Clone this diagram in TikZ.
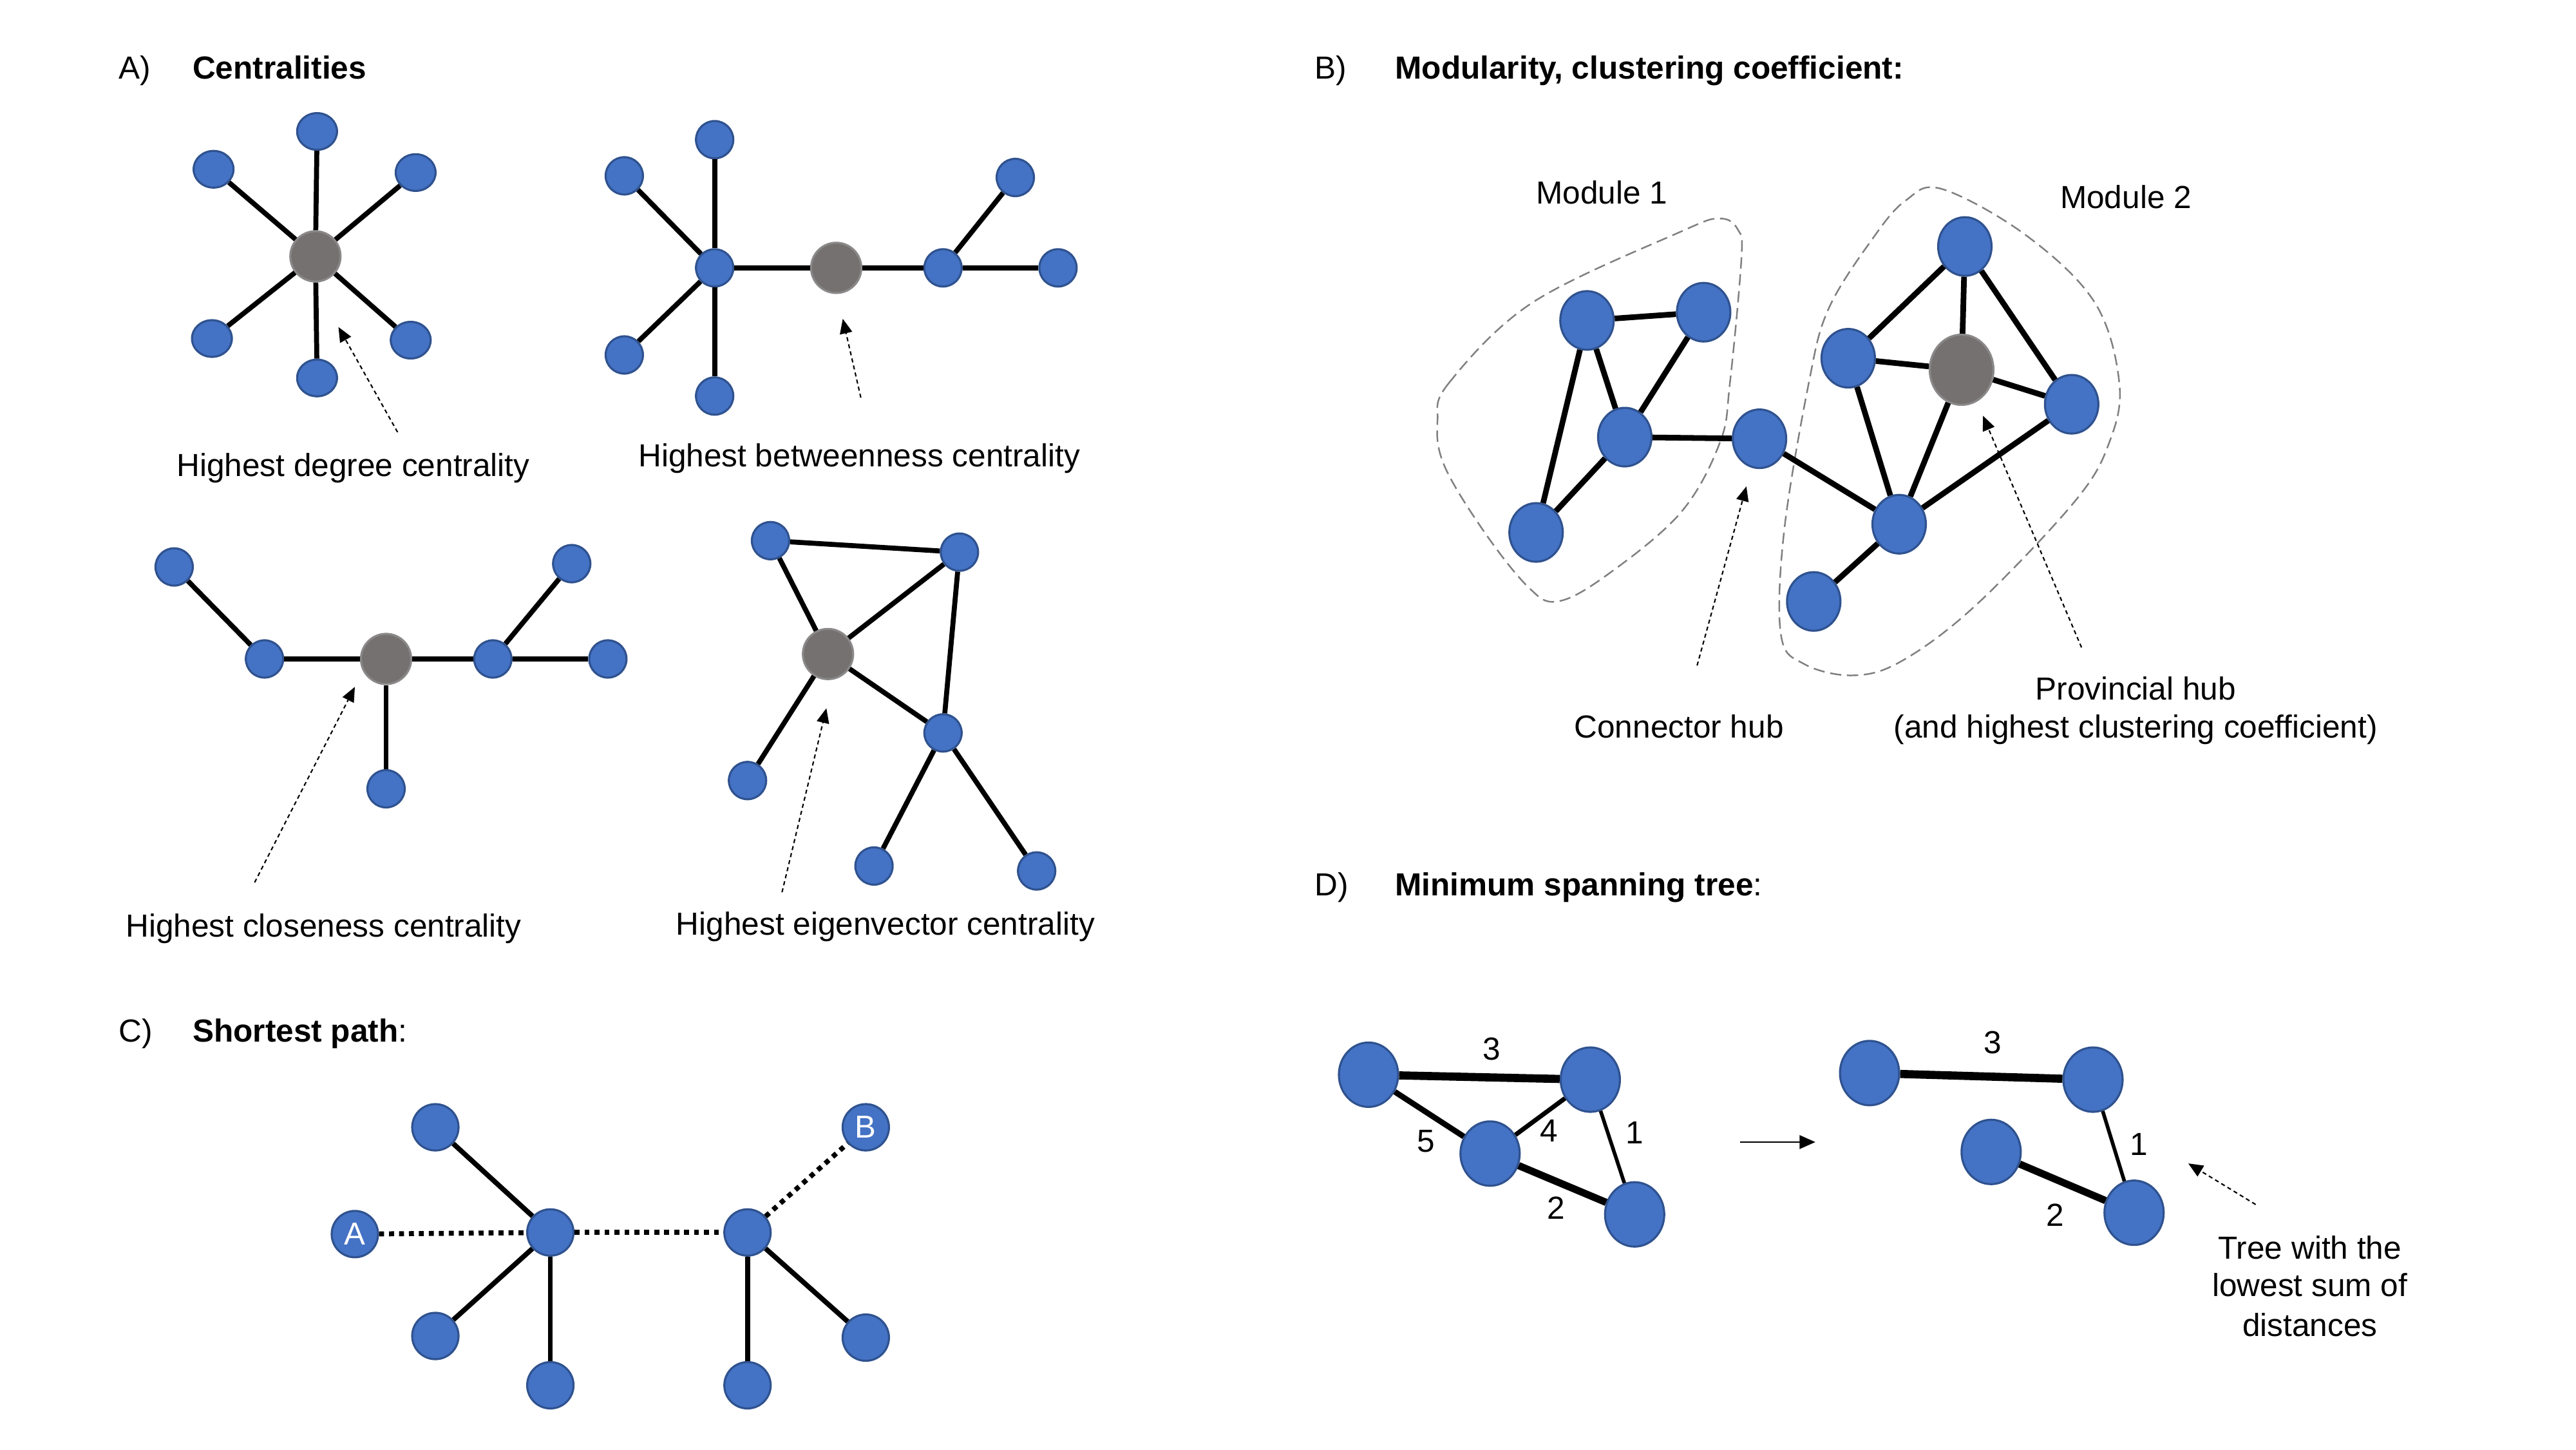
\documentclass[tikz,border=0pt]{standalone}
\usepackage{fontspec}
\setmainfont{Liberation Sans}
\usetikzlibrary{arrows.meta,shapes.geometric}
\definecolor{netblue}{HTML}{4472C4}
\definecolor{netrim}{HTML}{2F528F}
\definecolor{hubgray}{HTML}{767171}
\definecolor{hubrim}{HTML}{8A8888}
\definecolor{modline}{HTML}{7F7F7F}

\tikzset{
  vtx/.style={ellipse, draw=netrim, fill=netblue, line width=0.9pt, inner sep=0pt, minimum width=0.58cm, minimum height=0.58cm},
  hubvtx/.style={vtx, draw=hubrim, fill=hubgray, minimum width=0.78cm, minimum height=0.78cm},
  link/.style={line width=2.2pt},
  pathlink/.style={line width=2.2pt, dash pattern=on 2.2pt off 2.2pt},
  pointer/.style={line width=0.6pt, dash pattern=on 1.8pt off 1.4pt, -{Triangle[length=6.5pt,width=5.5pt]}},
  txt/.style={font=\fontsize{14.1}{17}\selectfont, inner sep=0pt, anchor=base},
  head/.style={txt, anchor=base west},
  module/.style={modline, line width=0.7pt, dash pattern=on 5pt off 2.5pt}
}

\begin{document}
\begin{tikzpicture}[x=0.2551mm, y=-0.2551mm]
\useasboundingbox (0,0) rectangle (1568,882);

% ---------- A) Centralities
\node[head] (hA) at (72,48) {A)};
\node[head] (tA) at (117,48) {\textbf{Centralities}};

% degree
\node[hubvtx] (dg0) at (192,156) {};
\node[vtx, minimum width=0.62cm, minimum height=0.57cm] (dg1) at (193,80) {};
\node[vtx, minimum width=0.62cm, minimum height=0.57cm] (dg2) at (130,103) {};
\node[vtx, minimum width=0.62cm, minimum height=0.57cm] (dg3) at (253,105) {};
\node[vtx, minimum width=0.62cm, minimum height=0.57cm] (dg4) at (129,206) {};
\node[vtx, minimum width=0.62cm, minimum height=0.57cm] (dg5) at (250,207) {};
\node[vtx, minimum width=0.62cm, minimum height=0.57cm] (dg6) at (193,230) {};
\foreach \n in {1,...,6}
  \draw[link] (dg0) -- (dg\n);
\coordinate (dgtail) at (242,263);
\coordinate (dgtip) at (206,199);
\draw[pointer] (dgtail) -- (dgtip);
\node[txt] (dglabel) at (215,290) {Highest degree centrality};

% betweenness
\node[vtx] (bt0) at (435,163) {};
\node[vtx] (bt1) at (435,85) {};
\node[vtx] (bt2) at (380,107) {};
\node[vtx] (bt3) at (380,216) {};
\node[vtx] (bt4) at (435,241) {};
\node[hubvtx] (btc) at (509,163) {};
\node[vtx] (bt5) at (574,163) {};
\node[vtx] (bt6) at (618,108) {};
\node[vtx] (bt7) at (644,163) {};
\foreach \n in {1,...,4}
  \draw[link] (bt0) -- (bt\n);
\draw[link] (bt0) -- (btc);
\draw[link] (btc) -- (bt5);
\draw[link] (bt5) -- (bt6);
\draw[link] (bt5) -- (bt7);
\coordinate (bttail) at (524,242);
\coordinate (bttip) at (513,194);
\draw[pointer] (bttail) -- (bttip);
\node[txt] (btlabel) at (523,284) {Highest betweenness centrality};

% closeness
\node[vtx] (cl1) at (106,345) {};
\node[vtx] (cl2) at (161,401) {};
\node[hubvtx] (clc) at (235,401) {};
\node[vtx] (cl3) at (300,401) {};
\node[vtx] (cl4) at (348,343) {};
\node[vtx] (cl5) at (370,401) {};
\node[vtx] (cl6) at (235,480) {};
\draw[link] (cl1) -- (cl2);
\draw[link] (cl2) -- (clc);
\draw[link] (clc) -- (cl3);
\draw[link] (cl3) -- (cl4);
\draw[link] (cl3) -- (cl5);
\draw[link] (clc) -- (cl6);
\coordinate (cltail) at (155,537);
\coordinate (cltip) at (216,418);
\draw[pointer] (cltail) -- (cltip);
\node[txt] (cllabel) at (197,570) {Highest closeness centrality};

% eigenvector
\node[vtx] (ev1) at (469,329) {};
\node[vtx] (ev2) at (584,336) {};
\node[hubvtx] (evc) at (504,398) {};
\node[vtx] (ev3) at (574,446) {};
\node[vtx] (ev4) at (455,475) {};
\node[vtx] (ev5) at (532,527) {};
\node[vtx] (ev6) at (631,530) {};
\draw[link] (ev1) -- (ev2);
\draw[link] (ev1) -- (evc);
\draw[link] (evc) -- (ev2);
\draw[link] (ev2) -- (ev3);
\draw[link] (evc) -- (ev3);
\draw[link] (evc) -- (ev4);
\draw[link] (ev3) -- (ev5);
\draw[link] (ev3) -- (ev6);
\coordinate (evtail) at (476,543);
\coordinate (evtip) at (503,431);
\draw[pointer] (evtail) -- (evtip);
\node[txt] (evlabel) at (539,569) {Highest eigenvector centrality};

% ---------- C) Shortest path
\node[head] (hC) at (72,634) {C)};
\node[head] (tC) at (117,634) {\textbf{Shortest path}:};

\tikzset{cvtx/.style={vtx, minimum width=0.72cm, minimum height=0.72cm, text=white, font=\fontsize{14}{17}\selectfont}}
\node[cvtx] (pa) at (216,751) {A};
\node[cvtx] (ph1) at (335,750) {};
\node[cvtx] (pl1) at (265,686) {};
\node[cvtx] (pl2) at (265,813) {};
\node[cvtx] (pl3) at (335,843) {};
\node[cvtx] (ph2) at (455,750) {};
\node[cvtx] (pb) at (527,686) {B};
\node[cvtx] (pr1) at (455,843) {};
\node[cvtx] (pr2) at (527,814) {};
\draw[pathlink] (pa) -- (ph1);
\draw[pathlink] (ph1) -- (ph2);
\draw[pathlink] (ph2) -- (pb);
\draw[link] (ph1) -- (pl1);
\draw[link] (ph1) -- (pl2);
\draw[link] (ph1) -- (pl3);
\draw[link] (ph2) -- (pr1);
\draw[link] (ph2) -- (pr2);

% ---------- B) Modularity
\node[head] (hB) at (800,48) {B)};
\node[head] (tB) at (849,48) {\textbf{Modularity, clustering coefficient:}};
\node[txt] (m1label) at (975,124) {Module 1};
\node[txt] (m2label) at (1294,127) {Module 2};

\draw[module] plot[smooth cycle, tension=0.6] coordinates {
  (875,256) (882,233) (933,184) (1023,141) (1047,133) (1058,140) (1060,157)
  (1053,233) (1047,269) (1023,312) (978,350) (948,366) (930,357) (903,323) (879,283)};
\draw[module] plot[smooth cycle, tension=0.6] coordinates {
  (1182,115) (1233,143) (1275,184) (1290,233) (1284,269) (1263,305) (1203,368)
  (1158,402) (1128,411) (1098,404) (1084,386) (1086,323) (1101,233) (1113,188) (1140,145) (1160,122)};

\tikzset{bvtx/.style={vtx, minimum width=0.83cm, minimum height=0.91cm}}
\node[bvtx] (ma1) at (966,195) {};
\node[bvtx] (ma2) at (1037,190) {};
\node[bvtx] (ma3) at (989,266) {};
\node[bvtx] (ma4) at (935,324) {};
\node[bvtx] (conn) at (1071,267) {};
\node[bvtx] (mb1) at (1196,150) {};
\node[bvtx] (mb2) at (1125,218) {};
\node[hubvtx, minimum width=0.99cm, minimum height=1.09cm] (prov) at (1194,225) {};
\node[bvtx] (mb3) at (1261,246) {};
\node[bvtx] (mb4) at (1156,319) {};
\node[bvtx] (mb5) at (1104,366) {};
\tikzset{link/.append style={line width=2.5pt}}
\draw[link] (ma1) -- (ma2);
\draw[link] (ma1) -- (ma3);
\draw[link] (ma1) -- (ma4);
\draw[link] (ma2) -- (ma3);
\draw[link] (ma3) -- (ma4);
\draw[link] (ma3) -- (conn);
\draw[link] (conn) -- (mb4);
\draw[link] (mb1) -- (mb2);
\draw[link] (mb1) -- (prov);
\draw[link] (mb1) -- (mb3);
\draw[link] (mb2) -- (prov);
\draw[link] (mb2) -- (mb4);
\draw[link] (prov) -- (mb3);
\draw[link] (prov) -- (mb4);
\draw[link] (mb3) -- (mb4);
\draw[link] (mb4) -- (mb5);

\coordinate (conntail) at (1033,405);
\coordinate (conntip) at (1063,296);
\draw[pointer] (conntail) -- (conntip);
\coordinate (provtail) at (1267,394);
\coordinate (provtip) at (1207,253);
\draw[pointer] (provtail) -- (provtip);
\node[txt] (connlabel) at (1022,449) {Connector hub};
\node[txt] (provlabel) at (1300,426) {Provincial hub};
\node[txt] (provlabelb) at (1300,449) {(and highest clustering coefficient)};

% ---------- D) Minimum spanning tree
\node[head] (hD) at (800,545) {D)};
\node[head] (tD) at (849,545) {\textbf{Minimum spanning tree}:};

\tikzset{dvtx/.style={vtx, minimum width=0.92cm, minimum height=1.0cm}}
\node[dvtx] (g1) at (833,654) {};
\node[dvtx] (g2) at (968,657) {};
\node[dvtx] (g3) at (907,702) {};
\node[dvtx] (g4) at (995,739) {};
\draw[line width=3.6pt] (g1) -- (g2);
\draw[line width=2.5pt] (g1) -- (g3);
\draw[line width=2pt] (g3) -- (g2);
\draw[line width=1.6pt] (g2) -- (g4);
\draw[line width=3.2pt] (g3) -- (g4);
\node[txt] (w3) at (908,645) {3};
\node[txt] (w5) at (868,701) {5};
\node[txt] (w4) at (943,695) {4};
\node[txt] (w1) at (995,696) {1};
\node[txt] (w2) at (947,742) {2};

\coordinate (mstfrom) at (1059,695);
\coordinate (mstto) at (1105,695);
\draw[line width=0.8pt, -{Triangle[length=7pt,width=6pt]}] (mstfrom) -- (mstto);

\node[dvtx] (t1) at (1138,653) {};
\node[dvtx] (t2) at (1274,657) {};
\node[dvtx] (t3) at (1212,701) {};
\node[dvtx] (t4) at (1299,738) {};
\draw[line width=3.6pt] (t1) -- (t2);
\draw[line width=1.6pt] (t2) -- (t4);
\draw[line width=3.2pt] (t3) -- (t4);
\node[txt] (u3) at (1213,641) {3};
\node[txt] (u1) at (1302,703) {1};
\node[txt] (u2) at (1251,746) {2};

\coordinate (treetail) at (1373,733);
\coordinate (treetip) at (1332,708);
\draw[pointer] (treetail) -- (treetip);
\node[txt] (tree1) at (1406,766) {Tree with the};
\node[txt] (tree2) at (1406,789) {lowest sum of};
\node[txt] (tree3) at (1406,813) {distances};
\end{tikzpicture}
\end{document}
